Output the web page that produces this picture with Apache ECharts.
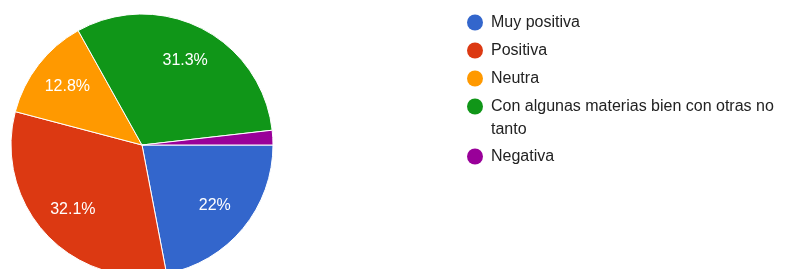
<!DOCTYPE html>
<html>
<head>
<meta charset="utf-8">
<script src="https://cdn.jsdelivr.net/npm/echarts@6/dist/echarts.min.js"></script>
<style>
  html, body { margin: 0; padding: 0; background: #fff; }
  #chart { width: 803px; height: 269px; }
</style>
</head>
<body>
<div id="chart"></div>
<script>
// respuestas y porcentajes
const categories = ['Muy positiva', 'Positiva', 'Neutra', 'Con algunas materias bien con otras no tanto', 'Negativa']
const values = [22, 32.1, 12.8, 31.3, 1.8]
const labels = ['22%', '32.1%', '12.8%', '31.3%', '']
const colors = ['#3366cc', '#dc3912', '#ff9900', '#109618', '#990099']

const font = '"Liberation Sans", Arial, sans-serif'
const legendBase = {
  orient: 'vertical',
  left: 467,
  padding: 0,
  itemWidth: 22,
  itemHeight: 16,
  itemGap: 5,
  icon: 'circle',
  selectedMode: false,
  itemStyle: { borderWidth: 0 },
  textStyle: { color: '#222', fontSize: 16, lineHeight: 23, fontFamily: font }
}

const pieData = categories.map((name, i) => ({ name, value: values[i], itemStyle: { color: colors[i] } }))

const chart = echarts.init(document.getElementById('chart'))
chart.setOption({
  animation: false,
  color: colors,
  legend: [
    { ...legendBase, top: 11, data: categories.slice(0, 3) },
    {
      // linea vacia arriba para que el icono quede junto a la primera linea
      ...legendBase, top: 72,
      data: [categories[3]],
      formatter: () => ' \nCon algunas materias bien con otras no\ntanto'
    },
    { ...legendBase, top: 145, data: [categories[4]] }
  ],
  series: [
    {
      type: 'pie',
      center: [142, 145],
      radius: [0, 131],
      startAngle: 0,
      clockwise: true,
      data: pieData,
      label: { show: false },
      labelLine: { show: false },
      itemStyle: { borderColor: '#fff', borderWidth: 1 },
      emphasis: { disabled: true }
    },
    {
      // solo etiquetas, a ~0.7 del radio
      type: 'pie',
      center: [142, 145],
      radius: [52, 131],
      startAngle: 0,
      clockwise: true,
      silent: true,
      data: categories.map((name, i) => ({ name, value: values[i] })),
      itemStyle: { color: 'rgba(0,0,0,0)', borderWidth: 0 },
      label: {
        show: true,
        position: 'inside',
        color: '#fff',
        fontSize: 16,
        fontFamily: font,
        formatter: p => labels[p.dataIndex]
      },
      labelLine: { show: false },
      emphasis: { disabled: true }
    }
  ]
})
</script>
</body>
</html>
